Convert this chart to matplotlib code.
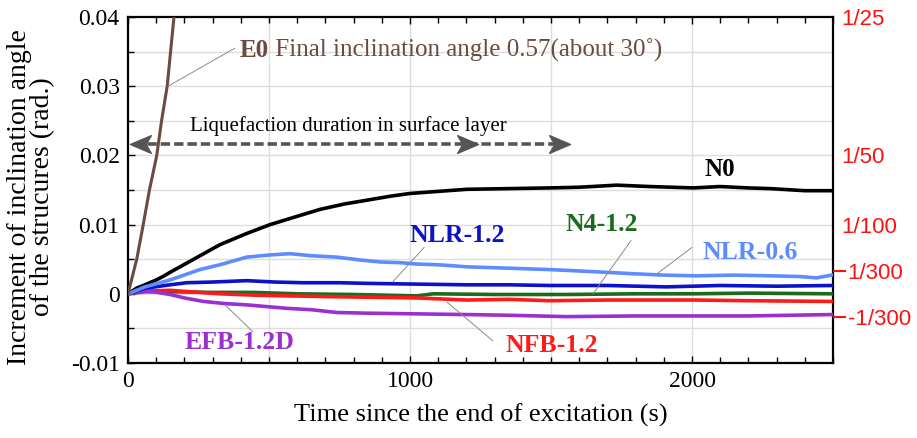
import numpy as np
import matplotlib
matplotlib.use("Agg")
import matplotlib.pyplot as plt
from matplotlib.path import Path
from matplotlib.ticker import MultipleLocator, FixedLocator

plt.rcParams['font.family'] = ['Liberation Serif', 'DejaVu Serif']

# ---------------- data ----------------
t_N0 = [0, 30, 60, 100, 124, 149, 220, 326, 420, 504, 600, 681, 770, 858, 930, 1000,
        1100, 1201, 1350, 1496, 1600, 1733, 1850, 2005, 2099, 2200, 2277, 2400, 2495]
y_N0 = [0, 0.0008, 0.0013, 0.0020, 0.0025, 0.0031, 0.0047, 0.0071, 0.0087, 0.0100, 0.0112,
        0.0122, 0.0130, 0.0136, 0.0141, 0.0145, 0.0148, 0.0151, 0.0152, 0.0153, 0.0154,
        0.0157, 0.0155, 0.0153, 0.0155, 0.0153, 0.0152, 0.0149, 0.0149]

t_NLR06 = [0, 60, 149, 255, 326, 421, 500, 574, 650, 740, 820, 894, 965, 1024, 1100, 1201,
           1350, 1496, 1650, 1792, 1900, 2017, 2150, 2277, 2380, 2442, 2495]
y_NLR06 = [0, 0.0010, 0.0020, 0.0035, 0.0042, 0.0053, 0.0056, 0.0058, 0.0055, 0.0053,
           0.0049, 0.0046, 0.0045, 0.0043, 0.0042, 0.0039, 0.0037, 0.0035, 0.0032, 0.0029,
           0.0027, 0.0026, 0.0027, 0.0026, 0.0025, 0.0023, 0.0027]

t_NLR12 = [0, 60, 149, 208, 300, 421, 520, 621, 750, 858, 1024, 1201, 1350, 1496, 1700,
           1910, 2099, 2300, 2495]
y_NLR12 = [0, 0.0008, 0.0013, 0.0016, 0.0017, 0.0019, 0.0017, 0.0016, 0.0016, 0.0015,
           0.0014, 0.0013, 0.0013, 0.0012, 0.0012, 0.0010, 0.0012, 0.0011, 0.0012]

t_N412 = [0, 60, 149, 300, 444, 600, 800, 1024, 1083, 1300, 1556, 1800, 2005, 2200, 2495]
y_N412 = [0, 0.0003, 0.0003, 0.0002, 0.0002, 0.0000, -0.0001, -0.0003, 0.0, -0.0001,
          -0.0001, 0.0, 0.0, 0.0001, 0.0]

t_NFB12 = [0, 60, 149, 326, 450, 563, 700, 858, 1024, 1201, 1350, 1496, 1700, 2005, 2200, 2495]
y_NFB12 = [0, 0.0004, 0.0005, 0.0, -0.0002, -0.0003, -0.0004, -0.0005, -0.0006, -0.0009,
           -0.0008, -0.0010, -0.0009, -0.0009, -0.0010, -0.0011]

t_EFB = [0, 40, 90, 149, 200, 267, 340, 421, 563, 650, 740, 850, 1024, 1201, 1350, 1556,
         1800, 2005, 2200, 2495]
y_EFB = [0, 0.0004, 0.0003, -0.0001, -0.0006, -0.0011, -0.0014, -0.0016, -0.0021, -0.0023,
         -0.0027, -0.0028, -0.0029, -0.0030, -0.0031, -0.0033, -0.0032, -0.0032, -0.0032, -0.0030]

t_E0 = [0, 31, 54, 76, 102, 119, 139, 151, 163, 170]
y_E0 = [0, 0.005, 0.010, 0.015, 0.020, 0.025, 0.030, 0.035, 0.040, 0.043]

right_major_vals = [1/25, 1/50, 1/100]
right_major_labels = ['1/25', '1/50', '1/100']
right_minor_vals = [1/300, -1/300]
right_minor_labels = ['1/300', '-1/300']

liq_start, liq_mid, liq_end, liq_y = 7, 1241, 1567, 0.0216

# ---------------- figure ----------------
fig = plt.figure(figsize=(9.17, 4.38), dpi=100)
ax = fig.add_axes([128/917, 1-363/438, 705/917, 346/438])
ax.set_xlim(0, 2500)
ax.set_ylim(-0.01, 0.04)

grid_c = '#dddddd'
for gx in [500, 1000, 1500, 2000]:
    ax.axvline(gx, color=grid_c, lw=1.0, zorder=0)
for gy in np.arange(-0.005, 0.0351, 0.005):
    ax.axhline(gy, color=grid_c, lw=1.0, zorder=0)

lw = 2.6
ax.plot(t_N412, y_N412, color='#1b6b1f', lw=lw, zorder=3)
ax.plot(t_NFB12, y_NFB12, color='#ff1a1a', lw=lw, zorder=3)
ax.plot(t_EFB, y_EFB, color='#9a30d0', lw=lw, zorder=3)
ax.plot(t_NLR12, y_NLR12, color='#0c12c8', lw=lw, zorder=3)
ax.plot(t_N0, y_N0, color='black', lw=lw, zorder=4)
ax.plot(t_NLR06, y_NLR06, color='#5d8cff', lw=lw, zorder=4)
ax.plot(t_E0, y_E0, color='#6b4a40', lw=2.2, zorder=5)

# liquefaction arrow
arr_c = '#555555'
ax.plot([liq_start + 15, liq_end - 15], [liq_y, liq_y], color=arr_c, lw=2.6,
        linestyle=(0, (2.6, 1.1)), zorder=6, dash_capstyle='butt')
head = Path([(0, 0), (-2, 0.85), (-1.5, 0), (-2, -0.85), (0, 0)],
            [Path.MOVETO, Path.LINETO, Path.LINETO, Path.LINETO, Path.CLOSEPOLY])
head_l = Path([(0, 0), (2, 0.85), (1.5, 0), (2, -0.85), (0, 0)],
              [Path.MOVETO, Path.LINETO, Path.LINETO, Path.LINETO, Path.CLOSEPOLY])
ax.plot([liq_mid, liq_end], [liq_y, liq_y], linestyle='none', marker=head,
        markersize=30, color=arr_c, zorder=7)
ax.plot([liq_start], [liq_y], linestyle='none', marker=head_l,
        markersize=30, color=arr_c, zorder=7)
ax.text(780, 0.0242, 'Liquefaction duration in surface layer', fontsize=15,
        ha='center', va='center', color='black', zorder=8)

# labels with leader lines
lead = dict(arrowstyle='-', color='#8a8a8a', lw=0.7, shrinkA=0, shrinkB=0)

def leader(p0, p1):
    ax.annotate('', xy=p0, xytext=p1, arrowprops=lead, zorder=6)

leader((142, 0.030), (379, 0.0355))
t1 = ax.text(397, 0.0352, 'E0', fontsize=18, fontweight='bold', color='#6b4a40',
             ha='left', va='center', zorder=8)
ax.annotate(' Final inclination angle 0.57(about 30˚)', xy=(1, 0), xycoords=t1,
            fontsize=18, color='#6b4a40', ha='left', va='bottom', zorder=8)

ax.text(2099, 0.0180, 'N0', fontsize=18, fontweight='bold', color='black',
        ha='center', va='center')

leader((938, 0.0017), (1050, 0.0067))
ax.text(1167, 0.0084, 'NLR-1.2', fontsize=18.5, fontweight='bold', color='#0c12c8',
        ha='center', va='center')

leader((1876, 0.0029), (2000, 0.0067))
ax.text(2206, 0.0059, 'NLR-0.6', fontsize=18.5, fontweight='bold', color='#5d8cff',
        ha='center', va='center')

leader((1649, 0.0000), (1784, 0.0077))
ax.text(1679, 0.0100, 'N4-1.2', fontsize=18.5, fontweight='bold', color='#1b6b1f',
        ha='center', va='center')

leader((1131, -0.0012), (1294, -0.0068))
ax.text(1502, -0.0074, 'NFB-1.2', fontsize=18.5, fontweight='bold', color='#ff1a1a',
        ha='center', va='center')

leader((344, -0.0016), (443, -0.0055))
ax.text(397, -0.0070, 'EFB-1.2D', fontsize=18.5, fontweight='bold', color='#9a30d0',
        ha='center', va='center')

# axes formatting
ax.xaxis.set_major_locator(FixedLocator([0, 1000, 2000]))
ax.xaxis.set_minor_locator(MultipleLocator(100))
ax.yaxis.set_minor_locator(MultipleLocator(0.005))
ax.set_xticklabels(['0', '1000', '2000'])
ax.set_yticks([-0.01, 0, 0.01, 0.02, 0.03, 0.04])
ax.set_yticklabels(['-0.01', '0', '0.01', '0.02', '0.03', '0.04'])
ax.tick_params(which='both', direction='in', top=True, right=True, width=1.0)
ax.tick_params(which='major', length=5, labelsize=17, pad=6)
ax.tick_params(which='minor', length=4.5)
for s in ax.spines.values():
    s.set_linewidth(1.6)

ax.set_xlabel('Time since the end of excitation (s)', fontsize=19, labelpad=8)
ax.set_ylabel('Increment of inclination angle\nof the strucures (rad.)', fontsize=20,
              linespacing=0.9)
ax.yaxis.set_label_coords(-0.103, 0.48)

# right axis with fractions
ax2 = ax.twinx()
ax2.set_ylim(ax.get_ylim())
ax2.set_yticks(right_major_vals)
ax2.set_yticklabels(right_major_labels)
ax2.set_yticks(right_minor_vals, minor=True)
ax2.set_yticklabels(right_minor_labels, minor=True)
ax2.tick_params(which='major', length=0, pad=6, labelsize=16, labelcolor='#ff1111')
ax2.tick_params(which='minor', direction='out', length=9.5, width=1.5, color='#ff1111',
                pad=1, labelsize=16, labelcolor='#ff1111')
for lab in ax2.get_yticklabels(which='both'):
    lab.set_family(['Liberation Sans', 'DejaVu Sans'])
for s in ax2.spines.values():
    s.set_visible(False)

fig.savefig('out.png', dpi=100)
